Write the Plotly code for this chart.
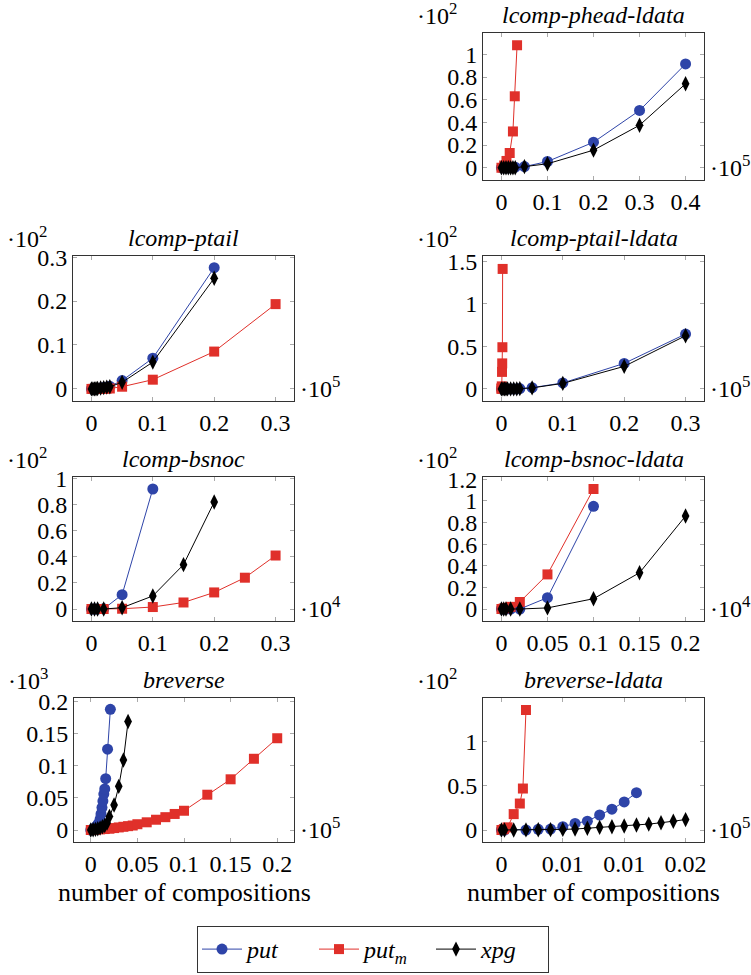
import plotly.graph_objects as go

# ---------------- data (x in units of the right multiplier, y in units of the left multiplier)
titles = ["lcomp-phead-ldata", "lcomp-ptail", "lcomp-ptail-ldata", "lcomp-bsnoc",
          "lcomp-bsnoc-ldata", "breverse", "breverse-ldata"]
y_mult = ["2", "2", "2", "2", "2", "3", "2"]
x_mult = ["5", "5", "5", "4", "4", "5", "5"]

# lcomp-phead-ldata
p1_put_x = [0, 0.005, 0.01, 0.015, 0.02, 0.025, 0.03, 0.05, 0.1, 0.2, 0.3, 0.4]
p1_put_y = [0, 0, 0, 0, 0, 0, 0.005, 0.01, 0.055, 0.225, 0.505, 0.915]
p1_putm_x = [0, 0.006, 0.011, 0.018, 0.025, 0.029, 0.034]
p1_putm_y = [0, 0.02, 0.06, 0.13, 0.32, 0.63, 1.08]
p1_xpg_x = [0, 0.005, 0.01, 0.015, 0.02, 0.025, 0.03, 0.05, 0.1, 0.2, 0.3, 0.4]
p1_xpg_y = [0, 0, 0, 0, 0, 0, 0, 0.01, 0.035, 0.155, 0.375, 0.74]

# lcomp-ptail
p2_put_x = [0, 0.0025, 0.005, 0.0075, 0.01, 0.015, 0.02, 0.025, 0.03, 0.05, 0.1, 0.2]
p2_put_y = [0, 0, 0, 0.0005, 0.001, 0.002, 0.003, 0.004, 0.006, 0.019, 0.07, 0.276]
p2_putm_x = [0, 0.0025, 0.005, 0.01, 0.015, 0.02, 0.025, 0.03, 0.05, 0.1, 0.2, 0.3]
p2_putm_y = [0, 0, 0, 0, 0, 0.0005, 0.001, 0.001, 0.005, 0.021, 0.085, 0.193]
p2_xpg_x = [0, 0.0025, 0.005, 0.0075, 0.01, 0.015, 0.02, 0.025, 0.03, 0.05, 0.1, 0.2]
p2_xpg_y = [0, 0, 0, 0.0005, 0.001, 0.002, 0.003, 0.004, 0.005, 0.015, 0.061, 0.252]

# lcomp-ptail-ldata
p3_put_x = [0, 0.0025, 0.005, 0.0075, 0.01, 0.015, 0.02, 0.025, 0.03, 0.05, 0.1, 0.2, 0.3]
p3_put_y = [0, 0, 0, 0, 0, 0, 0, 0, 0.004, 0.015, 0.07, 0.3, 0.645]
p3_putm_x = [0, 0.0003, 0.0006, 0.001, 0.0013, 0.0016, 0.002]
p3_putm_y = [0, 0.01, 0.03, 0.2, 0.3, 0.49, 1.41]
p3_xpg_x = [0, 0.0025, 0.005, 0.0075, 0.01, 0.015, 0.02, 0.025, 0.03, 0.05, 0.1, 0.2, 0.3]
p3_xpg_y = [0, 0, 0, 0, 0, 0, 0, 0, 0.003, 0.012, 0.065, 0.265, 0.625]

# lcomp-bsnoc
p4_put_x = [0, 0.005, 0.01, 0.02, 0.05, 0.1]
p4_put_y = [0, 0, 0, 0.001, 0.11, 0.92]
p4_putm_x = [0, 0.005, 0.01, 0.02, 0.05, 0.1, 0.15, 0.2, 0.25, 0.3]
p4_putm_y = [0, 0, 0, 0, 0.002, 0.015, 0.05, 0.127, 0.24, 0.41]
p4_xpg_x = [0, 0.005, 0.01, 0.02, 0.05, 0.1, 0.15, 0.2]
p4_xpg_y = [0, 0, 0, 0, 0.01, 0.1, 0.34, 0.82]

# lcomp-bsnoc-ldata
p5_put_x = [0, 0.0025, 0.005, 0.01, 0.02, 0.05, 0.1]
p5_put_y = [0, 0, 0, 0, 0, 0.105, 0.95]
p5_putm_x = [0, 0.0025, 0.005, 0.01, 0.02, 0.05, 0.1]
p5_putm_y = [0, 0.005, 0.01, 0.02, 0.065, 0.32, 1.11]
p5_xpg_x = [0, 0.0025, 0.005, 0.01, 0.02, 0.05, 0.1, 0.15, 0.2]
p5_xpg_y = [0, 0, 0, 0, 0, 0.01, 0.095, 0.335, 0.86]

# breverse
p6_put_x = [0, 0.002, 0.004, 0.006, 0.008, 0.01, 0.011, 0.012, 0.013, 0.014, 0.015, 0.016, 0.018, 0.021]
p6_put_y = [0, 0.001, 0.003, 0.006, 0.01, 0.017, 0.025, 0.035, 0.045, 0.056, 0.064, 0.08, 0.126, 0.188]
p6_putm_x = [0, 0.005, 0.01, 0.015, 0.02, 0.025, 0.03, 0.035, 0.04, 0.045, 0.05, 0.06, 0.07,
             0.08, 0.09, 0.1, 0.125, 0.15, 0.175, 0.2]
p6_putm_y = [0, 0.0005, 0.001, 0.0015, 0.002, 0.003, 0.004, 0.005, 0.006, 0.007, 0.009, 0.012, 0.016,
             0.02, 0.025, 0.03, 0.055, 0.079, 0.111, 0.143]
p6_xpg_x = [0, 0.0025, 0.005, 0.0075, 0.01, 0.0125, 0.015, 0.0175, 0.02, 0.025, 0.03, 0.035, 0.04]
p6_xpg_y = [0, 0.0005, 0.001, 0.002, 0.003, 0.005, 0.007, 0.011, 0.021, 0.039, 0.068, 0.109, 0.169]

# breverse-ldata
p7_put_x = [0, 0.00025, 0.002, 0.003, 0.004, 0.005, 0.006, 0.007, 0.008, 0.009, 0.01, 0.011]
p7_put_y = [0, 0, 0, 0.008, 0.01, 0.037, 0.075, 0.1, 0.17, 0.236, 0.318, 0.423]
p7_putm_x = [0, 0.0002, 0.0005, 0.001, 0.0015, 0.00175, 0.002]
p7_putm_y = [0, 0.01, 0.03, 0.18, 0.3, 0.47, 1.36]
p7_xpg_x = [0, 0.00025, 0.001, 0.002, 0.003, 0.004, 0.005, 0.006, 0.007, 0.008, 0.009, 0.01,
            0.011, 0.012, 0.013, 0.014, 0.015]
p7_xpg_y = [0, 0, 0, 0.001, 0.002, 0.004, 0.007, 0.011, 0.019, 0.03, 0.037, 0.045,
            0.056, 0.067, 0.082, 0.1, 0.118]

# tick values / labels
x_ticks = [[0, 0.1, 0.2, 0.3, 0.4], [0, 0.1, 0.2, 0.3], [0, 0.1, 0.2, 0.3], [0, 0.1, 0.2, 0.3],
           [0, 0.05, 0.1, 0.15, 0.2], [0, 0.05, 0.1, 0.15, 0.2], [0, 0.005, 0.01, 0.015]]
x_labels = [["0", "0.1", "0.2", "0.3", "0.4"], ["0", "0.1", "0.2", "0.3"], ["0", "0.1", "0.2", "0.3"],
            ["0", "0.1", "0.2", "0.3"], ["0", "0.05", "0.1", "0.15", "0.2"],
            ["0", "0.05", "0.1", "0.15", "0.2"], ["0", "0.01", "0.01", "0.02"]]
y_ticks = [[0, 0.2, 0.4, 0.6, 0.8, 1], [0, 0.1, 0.2, 0.3], [0, 0.5, 1, 1.5], [0, 0.2, 0.4, 0.6, 0.8, 1],
           [0, 0.2, 0.4, 0.6, 0.8, 1, 1.2], [0, 0.05, 0.1, 0.15, 0.2], [0, 0.5, 1]]
y_labels = [["0", "0.2", "0.4", "0.6", "0.8", "1"], ["0", "0.1", "0.2", "0.3"], ["0", "0.5", "1", "1.5"],
            ["0", "0.2", "0.4", "0.6", "0.8", "1"], ["0", "0.2", "0.4", "0.6", "0.8", "1", "1.2"],
            ["0", "0.05", "0.1", "0.15", "0.2"], ["0", "0.5", "1"]]
x_ranges = [[-0.04, 0.44], [-0.03, 0.33], [-0.03, 0.33], [-0.03, 0.33], [-0.02, 0.22],
            [-0.018, 0.218], [-0.0015, 0.0165]]
y_ranges = [[-0.108, 1.188], [-0.0275, 0.3025], [-0.142, 1.562], [-0.092, 1.012],
            [-0.111, 1.221], [-0.0187, 0.2057], [-0.136, 1.496]]

series_names = ["<i>put</i>", "<i>put</i><sub><i>m</i></sub>", "<i>xpg</i>"]
panels = [
    [(p1_put_x, p1_put_y), (p1_putm_x, p1_putm_y), (p1_xpg_x, p1_xpg_y)],
    [(p2_put_x, p2_put_y), (p2_putm_x, p2_putm_y), (p2_xpg_x, p2_xpg_y)],
    [(p3_put_x, p3_put_y), (p3_putm_x, p3_putm_y), (p3_xpg_x, p3_xpg_y)],
    [(p4_put_x, p4_put_y), (p4_putm_x, p4_putm_y), (p4_xpg_x, p4_xpg_y)],
    [(p5_put_x, p5_put_y), (p5_putm_x, p5_putm_y), (p5_xpg_x, p5_xpg_y)],
    [(p6_put_x, p6_put_y), (p6_putm_x, p6_putm_y), (p6_xpg_x, p6_xpg_y)],
    [(p7_put_x, p7_put_y), (p7_putm_x, p7_putm_y), (p7_xpg_x, p7_xpg_y)],
]

# ---------------- styling / layout
W, H = 751, 975
FONT = "Liberation Serif"
FS = 24
colors = ["#2E44A8", "#E0302A", "#000000"]
symbols = ["circle", "square", "diamond-tall"]
sizes = [11, 10, 11]

# plot boxes in pixels: (left, right, top, bottom)
boxes = [(483, 704, 33, 180), (73, 294, 256, 401), (483, 704, 256, 401), (73, 294, 477, 621),
         (483, 704, 477, 621), (74, 294, 698, 842), (483, 704, 698, 842)]

fig = go.Figure()
layout = dict(width=W, height=H, margin=dict(l=0, r=0, t=0, b=0, autoexpand=False),
              paper_bgcolor="white", plot_bgcolor="white",
              font=dict(family=FONT, size=FS, color="black"))
annotations = []

for i, (series, box) in enumerate(zip(panels, boxes)):
    n = "" if i == 0 else str(i + 1)
    for k, (xs, ys) in enumerate(series):
        fig.add_trace(go.Scatter(
            x=xs, y=ys, mode="lines+markers", name=series_names[k],
            xaxis="x" + n, yaxis="y" + n, legendgroup=str(k), showlegend=(i == 0),
            line=dict(color=colors[k], width=1),
            marker=dict(symbol=symbols[k], size=sizes[k], color=colors[k], line=dict(width=0)),
        ))
    l, r, t, b = box
    common = dict(showline=True, linecolor="#333333", linewidth=1, mirror="ticks",
                  ticks="inside", ticklen=4, tickcolor="#aaaaaa", tickwidth=1,
                  showgrid=False, zeroline=False, tickfont=dict(family=FONT, size=FS))
    layout["xaxis" + n] = dict(domain=[l / W, r / W], range=x_ranges[i], anchor="y" + n,
                               tickvals=x_ticks[i], ticktext=x_labels[i], **common)
    layout["yaxis" + n] = dict(domain=[1 - b / H, 1 - t / H], range=y_ranges[i], anchor="x" + n,
                               tickvals=y_ticks[i], ticktext=y_labels[i], **common)
    cx = (l + r) / 2
    annotations.append(dict(text="<i>" + titles[i] + "</i>", x=cx / W, y=1 - (t - 18) / H,
                            xref="paper", yref="paper", showarrow=False,
                            xanchor="center", yanchor="middle", font=dict(family=FONT, size=FS)))
    annotations.append(dict(text="·10<sup>" + y_mult[i] + "</sup>", x=(l - 46) / W, y=1 - (t - 19) / H,
                            xref="paper", yref="paper", showarrow=False,
                            xanchor="center", yanchor="middle", font=dict(family=FONT, size=FS)))
    y0px = b - (0 - y_ranges[i][0]) / (y_ranges[i][1] - y_ranges[i][0]) * (b - t)
    annotations.append(dict(text="·10<sup>" + x_mult[i] + "</sup>", x=(r + 4) / W, y=1 - (y0px - 2) / H,
                            xref="paper", yref="paper", showarrow=False,
                            xanchor="left", yanchor="middle", font=dict(family=FONT, size=FS)))

for cx in [(boxes[5][0] + boxes[5][1]) / 2, (boxes[6][0] + boxes[6][1]) / 2]:
    annotations.append(dict(text="number of compositions", x=cx / W, y=1 - 892 / H,
                            xref="paper", yref="paper", showarrow=False,
                            xanchor="center", yanchor="middle", font=dict(family=FONT, size=26)))

layout["annotations"] = annotations
layout["showlegend"] = True
layout["legend"] = dict(orientation="h", x=373 / W, xanchor="center", y=1 - 973 / H, yanchor="bottom",
                        bordercolor="#333333", borderwidth=1, bgcolor="white",
                        font=dict(family=FONT, size=FS), itemwidth=40,
                        entrywidth=62, entrywidthmode="pixels")
fig.update_layout(**layout)
fig.write_html("out.html", config={"displayModeBar": False},
               post_script="document.body.style.margin='0';")
